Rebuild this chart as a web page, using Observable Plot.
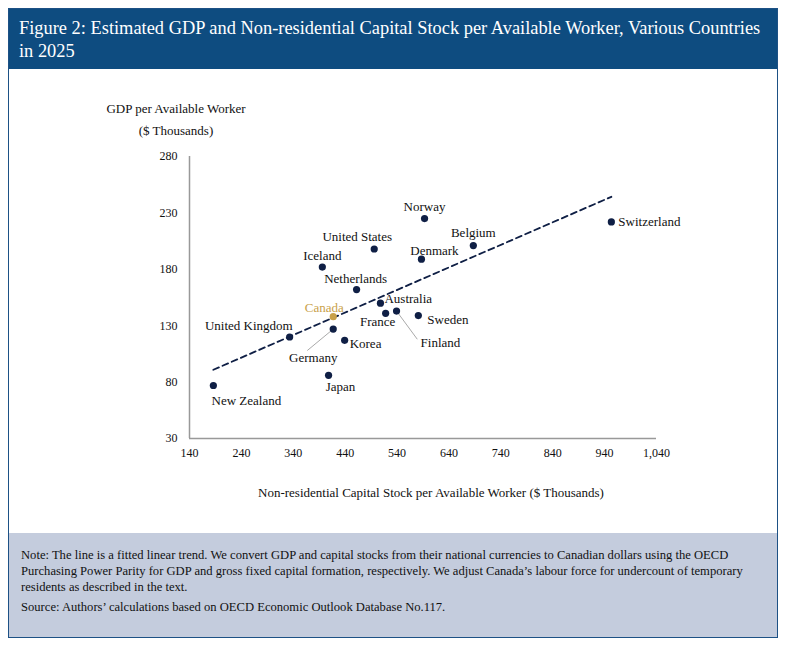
<!DOCTYPE html>
<html><head><meta charset="utf-8">
<script src="https://cdn.jsdelivr.net/npm/d3@7"></script>
<script src="https://cdn.jsdelivr.net/npm/@observablehq/plot@0.6"></script>
<style>
body{margin:0;background:#fff;font-family:"Liberation Serif",serif;}
#frame{position:absolute;left:8px;top:8px;width:768px;height:628px;border:1px solid #1d5185;background:#fff;}
#head{position:absolute;left:0;top:0;width:768px;height:60px;background:#0e4c80;color:#fff;font-size:18.4px;line-height:23px;padding:8px 10px;box-sizing:border-box;}
#chart{position:absolute;left:0;top:60px;}
.t{position:absolute;font-size:13px;color:#111;text-align:center;}
#notes{position:absolute;left:0;top:524px;width:768px;height:104px;background:#c4ccdd;font-size:12.6px;line-height:16px;padding:14px 12px;box-sizing:border-box;color:#111;}
#notes p{margin:0 0 4px 0;}
</style></head><body>
<div id="frame">
<div id="head">Figure 2: Estimated GDP and Non-residential Capital Stock per Available Worker, Various Countries in 2025</div>
<div id="chart"></div>
<div class="t" style="left:67px;top:89px;width:200px;line-height:22px">GDP per Available Worker<br>($ Thousands)</div>
<div class="t" style="left:172px;top:476px;width:500px">Non-residential Capital Stock per Available Worker ($ Thousands)</div>
<div id="notes"><p>Note: The line is a fitted linear trend. We convert GDP and capital stocks from their national currencies to Canadian dollars using the OECD Purchasing Power Parity for GDP and gross fixed capital formation, respectively. We adjust Canada’s labour force for undercount of temporary residents as described in the text.</p><p>Source: Authors’ calculations based on OECD Economic Outlook Database No.117.</p></div>
</div>
<script>
const countries=["New Zealand","United Kingdom","Canada","Germany","Korea","Japan","Iceland","Netherlands","United States","Norway","Denmark","Belgium","Australia","France","Finland","Sweden","Switzerland"];
const capital=[186,333,417,417,439,408,396,462,496,593,587,687,508,518,539,581,953];
const gdp=[77,120,138,127,117,86,182,162,198,225,189,201,150,141,143,139,222];
const xTicks=[140,240,340,440,540,640,740,840,940,1040];
const yTicks=[30,80,130,180,230,280];
// label placement: [anchor, dx, dy]
const labelPos={"New Zealand":["middle",33,15],"United Kingdom":["end",3,-11],"Canada":["middle",-9,-9],"Germany":["middle",-20,29],"Korea":["start",5,3],"Japan":["middle",12,11],"Iceland":["middle",0,-11],"Netherlands":["middle",-1,-11],"United States":["middle",-17,-12],"Norway":["middle",0,-12],"Denmark":["middle",13,-8],"Belgium":["middle",0,-13],"Australia":["start",4,-4],"France":["middle",-8,9],"Finland":["start",24,32],"Sweden":["start",9,4],"Switzerland":["start",7,0]};
const leaders=[{c:"Germany",x2:367,y2:108},{c:"Finland",x2:579,y2:118}];

const data=countries.map((c,i)=>({c,x:capital[i],y:gdp[i]}));
const navy="#0f1f45", gold="#c9a14a";
const labels=data.map(d=>{const [a,dx,dy]=labelPos[d.c];return Plot.text([d],{x:"x",y:"y",text:"c",textAnchor:a,dx,dy,fill:d.c==="Canada"?gold:"#111",fontSize:13});});
const lk=leaders.map(l=>{const d=data.find(e=>e.c===l.c);return {x1:d.x,y1:d.y,x2:l.x2,y2:l.y2};});
const chart=Plot.plot({
  width:768,height:464,marginLeft:180,marginRight:121,marginTop:87,marginBottom:95,
  style:{fontFamily:"Liberation Serif, serif",fontSize:"12px",color:"#111",background:"transparent"},
  x:{domain:[140,1040],ticks:xTicks,tickFormat:d3.format(","),label:null,tickSize:0,tickPadding:10},
  y:{domain:[30,280],ticks:yTicks,label:null,tickSize:0,tickPadding:12},
  marks:[
    Plot.ruleX([140],{stroke:"#999",strokeWidth:1.5}),
    Plot.ruleY([30],{stroke:"#999",strokeWidth:1.5}),
    Plot.axisX({ticks:xTicks,tickFormat:d3.format(","),tickSize:0,tickPadding:10,label:null,fontSize:12}),
    Plot.axisY({ticks:yTicks,tickSize:0,tickPadding:12,label:null,fontSize:12}),
    Plot.linearRegressionY(data,{x:"x",y:"y",ci:0,stroke:navy,strokeWidth:1.8,strokeDasharray:"6,4"}),
    Plot.link(lk,{x1:"x1",y1:"y1",x2:"x2",y2:"y2",stroke:"#aaa",strokeWidth:1}),
    Plot.dot(data,{x:"x",y:"y",r:3.6,fill:d=>d.c==="Canada"?gold:navy}),
    ...labels
  ]
});
document.getElementById("chart").appendChild(chart);
</script></body></html>
